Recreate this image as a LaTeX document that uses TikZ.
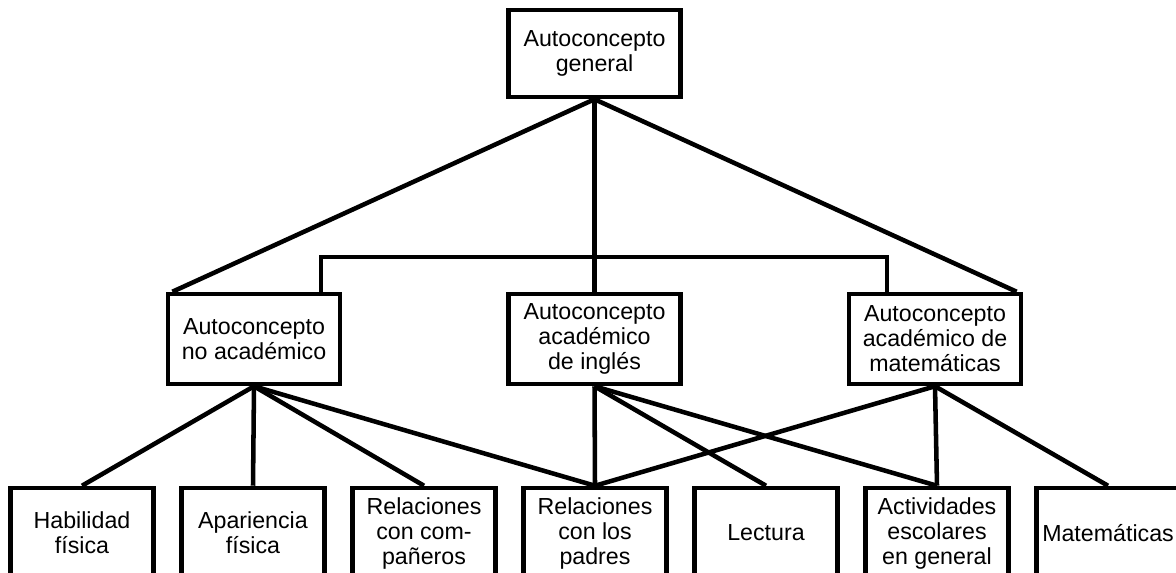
\documentclass[tikz,border=0pt]{standalone}
\usepackage{fontspec}
\setmainfont{Liberation Sans}
\usetikzlibrary{positioning}
\tikzstyle{link} = [
    line width=3.4pt,
    draw=black
]

\begin{document}
\begin{tikzpicture}[
    x=0.75pt, y=-0.75pt,
    node distance=17.6pt,
    every node/.style={
        draw,
        line width=3.4pt,
        font=\fontsize{17.4}{18.75}\selectfont,
        inner sep=0pt,
        align=center
    },
    bigbox/.style={
        minimum width=129pt,
        minimum height=67.5pt
    },
    leafbox/.style={
        minimum width=107.25pt,
        minimum height=67.5pt
    }
]
\clip (0,0) rectangle (1176,573);

% Nodes
\node[bigbox, minimum height=65.25pt] (general) at (594.5,53.5) {Autoconcepto\\general};
\node[bigbox] (noacad) at (254,339) {Autoconcepto\\no académico};
\node[bigbox] (ingles) at (594.5,339) {Autoconcepto\\académico\\de inglés};
\node[bigbox] (mates) at (935,339) {Autoconcepto\\académico de\\matemáticas};

\node[leafbox] (habilidad) at (82,533) {Habilidad\\física};
\node[leafbox, right=of habilidad] (apariencia) {Apariencia\\física};
\node[leafbox, right=of apariencia] (companeros) {Relaciones\\con com-\\pañeros};
\node[leafbox, right=of companeros] (padres) {Relaciones\\con los\\padres};
\node[leafbox, right=of padres] (lectura) {Lectura};
\node[leafbox, right=of lectura] (actividades) {Actividades\\escolares\\en general};
\node[leafbox, right=of actividades] (matematicas) {Matemáticas};

% Connectors
\draw[link] (general.south) -- ([xshift=5pt]noacad.north west);
\draw[link] (general.south) -- (ingles.north);
\draw[link] (general.south) -- ([xshift=-5pt]mates.north east);

\coordinate (barL) at (321,257);
\coordinate (barR) at (887,257);
\draw[link] (barL |- noacad.north) -- (barL) -- (barR) -- (barR |- mates.north);

\foreach \from/\to in {noacad/habilidad, noacad/apariencia, noacad/companeros, noacad/padres,
    ingles/padres, ingles/lectura, ingles/actividades,
    mates/padres, mates/actividades, mates/matematicas} {
    \draw[link] (\from.south) -- (\to.north);
}
\end{tikzpicture}
\end{document}
